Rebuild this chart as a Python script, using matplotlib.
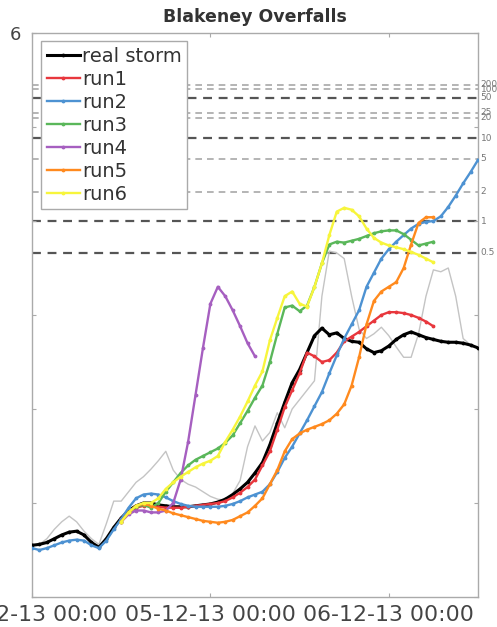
import numpy as np
import matplotlib
matplotlib.use("Agg")
import matplotlib.pyplot as plt

# hours after 04-12-13 00:00
tick_hours = [0, 24, 48]
tick_labels = ["04-12-13 00:00", "05-12-13 00:00", "06-12-13 00:00"]

# return period levels (labelled on the right)
rp_labels = ["200", "100", "50", "25", "20", "10", "5", "2", "1", "0.5"]
rp_levels = [5.45, 5.40, 5.31, 5.15, 5.10, 4.88, 4.66, 4.31, 4.00, 3.66]
rp_dark = [False, False, True, False, False, True, False, False, True, True]

# real storm, hourly from h0
real_storm = [0.55, 0.56, 0.58, 0.62, 0.66, 0.69, 0.70, 0.66, 0.58, 0.53,
              0.62, 0.74, 0.84, 0.92, 0.97, 1.00, 1.00, 0.98, 0.97, 0.96,
              0.96, 0.96, 0.97, 0.98, 0.99, 1.01, 1.04, 1.09, 1.15, 1.22,
              1.32, 1.43, 1.62, 1.85, 2.07, 2.28, 2.42, 2.60, 2.78, 2.86,
              2.79, 2.81, 2.75, 2.72, 2.71, 2.64, 2.60, 2.62, 2.67, 2.74,
              2.79, 2.82, 2.79, 2.76, 2.74, 2.72, 2.71, 2.71, 2.70, 2.68,
              2.65]

# run2, hourly from h0
run2 = [0.52, 0.50, 0.52, 0.55, 0.58, 0.60, 0.61, 0.60, 0.55, 0.52,
        0.60, 0.72, 0.83, 0.95, 1.05, 1.09, 1.10, 1.09, 1.06, 1.02,
        0.99, 0.97, 0.96, 0.96, 0.96, 0.96, 0.97, 0.99, 1.02, 1.06,
        1.09, 1.12, 1.20, 1.33, 1.48, 1.60, 1.74, 1.88, 2.03, 2.18,
        2.38, 2.57, 2.75, 2.90, 3.05, 3.30, 3.45, 3.60, 3.70, 3.78,
        3.85, 3.92, 3.97, 3.99, 4.00, 4.05, 4.15, 4.27, 4.40, 4.52,
        4.65]

# the other runs, hourly from h12
run1 = [0.83, 0.90, 0.95, 0.97, 0.97, 0.96, 0.95, 0.95, 0.95, 0.96,
        0.97, 0.98, 0.99, 1.00, 1.02, 1.06, 1.11, 1.17, 1.25, 1.40,
        1.55, 1.78, 2.02, 2.20, 2.38, 2.60, 2.56, 2.50, 2.52, 2.60,
        2.72, 2.77, 2.82, 2.88, 2.94, 3.00, 3.03, 3.03, 3.02, 3.00,
        2.97, 2.93, 2.88]
run3 = [0.80, 0.90, 0.96, 0.98, 0.95, 1.00, 1.12, 1.22, 1.32, 1.40,
        1.46, 1.50, 1.54, 1.58, 1.64, 1.72, 1.85, 1.98, 2.12, 2.25,
        2.50, 2.80, 3.08, 3.10, 3.04, 3.10, 3.30, 3.55, 3.75, 3.78,
        3.77, 3.79, 3.81, 3.84, 3.87, 3.89, 3.90, 3.90, 3.86, 3.80,
        3.74, 3.76, 3.78]
run4 = [0.80, 0.88, 0.92, 0.92, 0.90, 0.90, 0.92, 1.00, 1.25, 1.65,
        2.15, 2.65, 3.12, 3.30, 3.20, 3.05, 2.88, 2.70, 2.56]
run5 = [0.80, 0.90, 0.97, 0.99, 0.97, 0.94, 0.92, 0.89, 0.87, 0.85,
        0.83, 0.81, 0.80, 0.79, 0.80, 0.82, 0.86, 0.90, 0.97, 1.05,
        1.20, 1.35, 1.55, 1.68, 1.74, 1.78, 1.81, 1.84, 1.88, 1.95,
        2.05, 2.25, 2.55, 2.90, 3.15, 3.25, 3.30, 3.35, 3.50, 3.75,
        3.98, 4.04, 4.04]
run6 = [0.80, 0.90, 0.97, 1.00, 1.00, 1.05, 1.15, 1.22, 1.28, 1.33,
        1.38, 1.42, 1.45, 1.50, 1.65, 1.78, 1.92, 2.08, 2.25, 2.40,
        2.73, 2.97, 3.20, 3.25, 3.12, 3.09, 3.30, 3.55, 3.85, 4.10,
        4.14, 4.12, 4.05, 3.92, 3.82, 3.77, 3.74, 3.72, 3.70, 3.67,
        3.64, 3.60, 3.56]

# thin grey trace, hourly from h0
grey = [0.55, 0.56, 0.62, 0.72, 0.80, 0.86, 0.80, 0.70, 0.62, 0.56,
        0.78, 1.02, 1.02, 1.12, 1.22, 1.28, 1.36, 1.45, 1.55, 1.35,
        1.25, 1.20, 1.17, 1.12, 1.07, 1.04, 1.03, 1.10, 1.24, 1.60,
        1.82, 1.66, 1.75, 1.96, 1.80, 2.00, 2.10, 2.20, 2.30, 3.20,
        3.68, 3.66, 3.60, 3.20, 2.85, 2.75, 2.80, 2.87, 2.78, 2.66,
        2.55, 2.55, 2.80, 3.20, 3.48, 3.46, 3.50, 3.20, 2.75, 2.68]

W, H = 497, 627
fig = plt.figure(figsize=(W / 100, H / 100), dpi=100)
ax = fig.add_axes([32 / W, 30 / H, 446 / W, 564 / H])

for lev, dark in zip(rp_levels, rp_dark):
    ax.axhline(lev, color="#555555" if dark else "#a8a8a8", lw=1.6 if dark else 1.2,
               ls=(0, (4, 3)), zorder=1)
for lev, lab in zip(rp_levels, rp_labels):
    ax.text(1.006, lev, lab, transform=ax.get_yaxis_transform(), fontsize=6.5,
            color="#777777", va="center", ha="left", clip_on=False)

ax.plot(np.arange(len(grey)), grey, color="#c4c4c4", lw=1.0, zorder=2)

runs = [
    ("real storm", 0, real_storm, "#000000"),
    ("run1", 12, run1, "#e8373d"),
    ("run2", 0, run2, "#4d92d2"),
    ("run3", 12, run3, "#5ab75a"),
    ("run4", 12, run4, "#a65fc0"),
    ("run5", 12, run5, "#ff8a1e"),
    ("run6", 12, run6, "#f7f53c"),
]
for name, start, vals, col in runs:
    t = start + np.arange(len(vals))
    ax.plot(t, vals, color=col, lw=2.2 if name == "real storm" else 1.7,
            marker=".", ms=3.5, label=name, zorder=3)

ax.set_xlim(0.2, 60)
ax.set_ylim(0, 6)
ax.set_xticks(tick_hours)
ax.set_xticklabels(tick_labels)
ax.set_yticks(range(7))
ax.set_yticklabels(["", "", "", "", "", "", "6"])
ax.tick_params(direction="in", length=3, top=True, right=True, colors="#aaaaaa",
               labelcolor="#444444")
ax.tick_params(axis="x", labelsize=15.8, pad=6)
ax.tick_params(axis="y", labelsize=13, pad=8)
for s in ax.spines.values():
    s.set_color("#aaaaaa")
    s.set_linewidth(1.0)

ax.set_title("Blakeney Overfalls", fontsize=12.5, fontweight="bold", color="#333333", pad=8)

leg = ax.legend(loc="upper left", bbox_to_anchor=(0.02, 0.985), fontsize=14,
                frameon=True, fancybox=False, edgecolor="#aaaaaa", framealpha=1,
                handlelength=1.7, handletextpad=0.1, labelspacing=0.2,
                borderpad=0.3, borderaxespad=0)
for txt in leg.get_texts():
    txt.set_color("#333333")

fig.savefig("out.png", dpi=100)
